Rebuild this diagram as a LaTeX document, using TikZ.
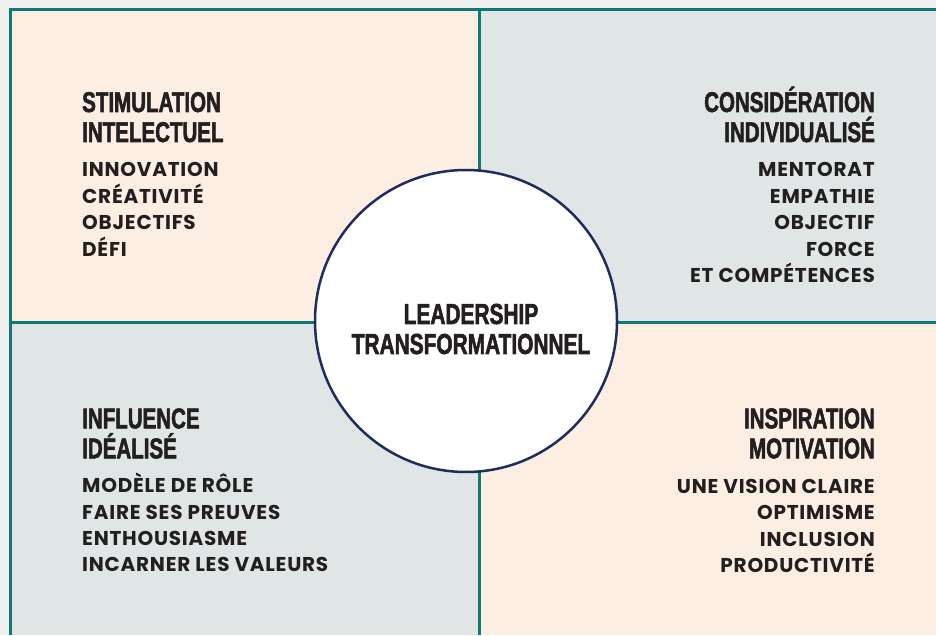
\documentclass[tikz,border=0pt]{standalone}
\usepackage{fontspec}
\usepackage{tikz}

\newfontfamily\titrefont[FakeStretch=0.72, FakeBold=1.8]{Liberation Sans Bold}
\newfontfamily\itemfont[LetterSpace=3.8]{Poppins}

\definecolor{fond}{HTML}{F0F0F0}
\definecolor{peche}{HTML}{FDEEE3}
\definecolor{gris}{HTML}{E0E6E6}
\definecolor{sarcelle}{HTML}{0E7A73}
\definecolor{marine}{HTML}{1F2D5E}
\definecolor{encre}{HTML}{231F20}

\tikzset{
  titre/.style={font=\titrefont\fontsize{28.5}{30}\selectfont, text=encre, inner sep=0pt},
  item/.style={font=\itemfont\bfseries\fontsize{20}{22}\selectfont, text=encre, inner sep=0pt},
  cadre/.style={draw=sarcelle, line width=3pt},
}

\begin{document}
\begin{tikzpicture}[x=1pt,y=1pt]
    \useasboundingbox (0,0) rectangle (936,635);
    \fill[fond] (0,0) rectangle (936,635);

    % quadrants
    \fill[peche] (10,312) rectangle (479,625.5);
    \fill[gris] (479,312) rectangle (936,625.5);
    \fill[gris] (10,0) rectangle (479,312);
    \fill[peche] (479,0) rectangle (936,312);

    % frame and dividers
    \coordinate (hg) at (10,625.5);
    \coordinate (hd) at (936,625.5);
    \coordinate (bg) at (10,0);
    \coordinate (mg) at (10,312);
    \coordinate (md) at (936,312);
    \coordinate (mh) at (479,625.5);
    \coordinate (mb) at (479,0);
    \draw[cadre] (bg) -- (hg) -- (hd);
    \draw[cadre] (mg) -- (md);
    \draw[cadre] (mh) -- (mb);

    % top left
    \node[titre, anchor=base west] (stim1) at (82,523) {STIMULATION};
    \node[titre, anchor=base west] (stim2) at (82,493) {INTELECTUEL};
    \foreach \mot [count=\i] in {INNOVATION,CRÉATIVITÉ,OBJECTIFS,DÉFI}
        \node[item, anchor=base west] (si\i) at (82,{458.3-26.5*(\i-1)}) {\mot};

    % top right
    \node[titre, anchor=base east] (cons1) at (875,523) {CONSIDÉRATION};
    \node[titre, anchor=base east] (cons2) at (875,493) {INDIVIDUALISÉ};
    \foreach \mot [count=\i] in {MENTORAT,EMPATHIE,OBJECTIF,FORCE,ET COMPÉTENCES}
        \node[item, anchor=base east] (ci\i) at (875,{458.3-26.5*(\i-1)}) {\mot};

    % bottom left
    \node[titre, anchor=base west] (infl1) at (82,206.7) {INFLUENCE};
    \node[titre, anchor=base west] (infl2) at (82,176.7) {IDÉALISÉ};
    \foreach \mot [count=\i] in {MODÈLE DE RÔLE,FAIRE SES PREUVES,ENTHOUSIASME,INCARNER LES VALEURS}
        \node[item, anchor=base west] (ii\i) at (82,{142.3-26.4*(\i-1)}) {\mot};

    % bottom right
    \node[titre, anchor=base east] (insp1) at (875,206.7) {INSPIRATION};
    \node[titre, anchor=base east] (insp2) at (875,176.7) {MOTIVATION};
    \foreach \mot [count=\i] in {UNE VISION CLAIRE,OPTIMISME,INCLUSION,PRODUCTIVITÉ}
        \node[item, anchor=base east] (pi\i) at (875,{142-26.6*(\i-1)}) {\mot};

    % centre circle
    \node[circle, draw=marine, fill=white, line width=2.5pt,
          minimum size=302pt, inner sep=0pt] (lt) at (466,314) {};
    \node[titre, font=\titrefont\fontsize{29}{31}\selectfont,
          anchor=base] (lt1) at (471,311) {LEADERSHIP};
    \node[titre, font=\titrefont\fontsize{29}{31}\selectfont,
          anchor=base] (lt2) at (471,281) {TRANSFORMATIONNEL};
\end{tikzpicture}
\end{document}
